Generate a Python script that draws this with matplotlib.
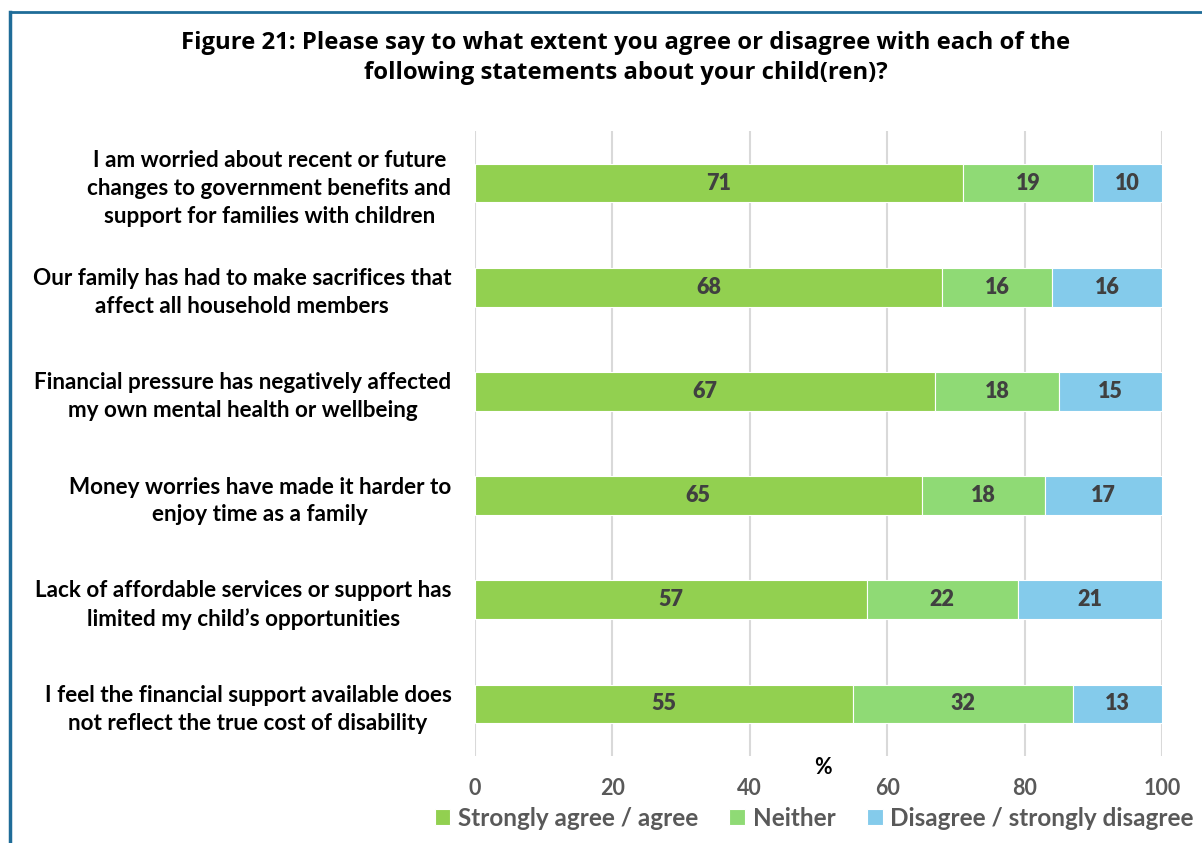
import matplotlib.pyplot as plt
import numpy as np

# Survey statements (top to bottom) and percentage responses
statements = [
    "I am worried about recent or future\nchanges to government benefits and\nsupport for families with children",
    "Our family has had to make sacrifices that\naffect all household members",
    "Financial pressure has negatively affected\nmy own mental health or wellbeing",
    "Money worries have made it harder to\nenjoy time as a family",
    "Lack of affordable services or support has\nlimited my child\u2019s opportunities",
    "I feel the financial support available does\nnot reflect the true cost of disability",
]
agree = [71, 68, 67, 65, 57, 55]
neither = [19, 16, 18, 18, 22, 32]
disagree = [10, 16, 15, 17, 21, 13]

series_names = ["Strongly agree / agree", "Neither", "Disagree / strongly disagree"]
colors = ["#92D050", "#8FDA75", "#84CBEB"]

title_font = "Open Sans"
num_font = "Lato"

fig = plt.figure(figsize=(12.02, 8.43), dpi=100)
ax = fig.add_axes([475 / 1202, 1 - 756 / 843, 687 / 1202, 625 / 843])

y = np.arange(len(statements))
left = np.zeros(len(statements))
for vals, name, col in zip([agree, neither, disagree], series_names, colors):
    vals = np.array(vals)
    bars = ax.barh(y, vals, left=left, height=0.37, color=col, label=name,
                   edgecolor="white", linewidth=0.8, zorder=3)
    for b, v in zip(bars, vals):
        ax.text(b.get_x() + b.get_width() / 2, b.get_y() + b.get_height() / 2,
                str(v), ha="center", va="center", fontsize=15.5,
                fontweight="heavy", color="#404040", family=num_font, zorder=4)
    left += vals

ax.set_ylim(len(statements) - 0.5, -0.5)
ax.set_xlim(0, 100)
ax.set_xticks(range(0, 101, 20))
ax.set_yticks(y)
ax.set_yticklabels(statements, fontsize=16.2, fontweight="bold",
                   family=num_font, linespacing=1.4, multialignment="center")
for lbl in ax.get_xticklabels():
    lbl.set_family(num_font)
    lbl.set_fontweight("bold")
    lbl.set_fontsize(15.5)
    lbl.set_color("#595959")
ax.tick_params(axis="both", length=0)
ax.tick_params(axis="x", pad=16)
ax.tick_params(axis="y", pad=17)
ax.grid(axis="x", color="#D9D9D9", linewidth=1.5, zorder=0)
for s in ax.spines.values():
    s.set_visible(False)

fig.text(823 / 1202, 1 - 768 / 843, "%", ha="center", va="center",
         fontsize=15.5, fontweight="bold", family=num_font, color="black")

fig.suptitle("Figure 21: Please say to what extent you agree or disagree with each of the\n"
             "following statements about your child(ren)?",
             x=626 / 1202, y=1 - 31 / 843, va="top", fontsize=17.2,
             fontweight="bold", family=title_font, linespacing=1.35)

leg = fig.legend(loc="center", bbox_to_anchor=(814 / 1202, 1 - 818 / 843), ncol=3,
                 frameon=False, handlelength=0.65, handleheight=0.65,
                 handletextpad=0.3, columnspacing=1.3,
                 prop={"family": num_font, "weight": "bold", "size": 17.5})
for t in leg.get_texts():
    t.set_color("#595959")

# Frame lines along the left and top edges
fig.add_artist(plt.Line2D([10 / 1202, 10 / 1202], [0, 1 - 12 / 843],
                          transform=fig.transFigure, color="#1F6C98", linewidth=2.5))
fig.add_artist(plt.Line2D([10 / 1202, 1], [1 - 12 / 843, 1 - 12 / 843],
                          transform=fig.transFigure, color="#1F6C98", linewidth=2))

fig.savefig("out.png", dpi=100)
